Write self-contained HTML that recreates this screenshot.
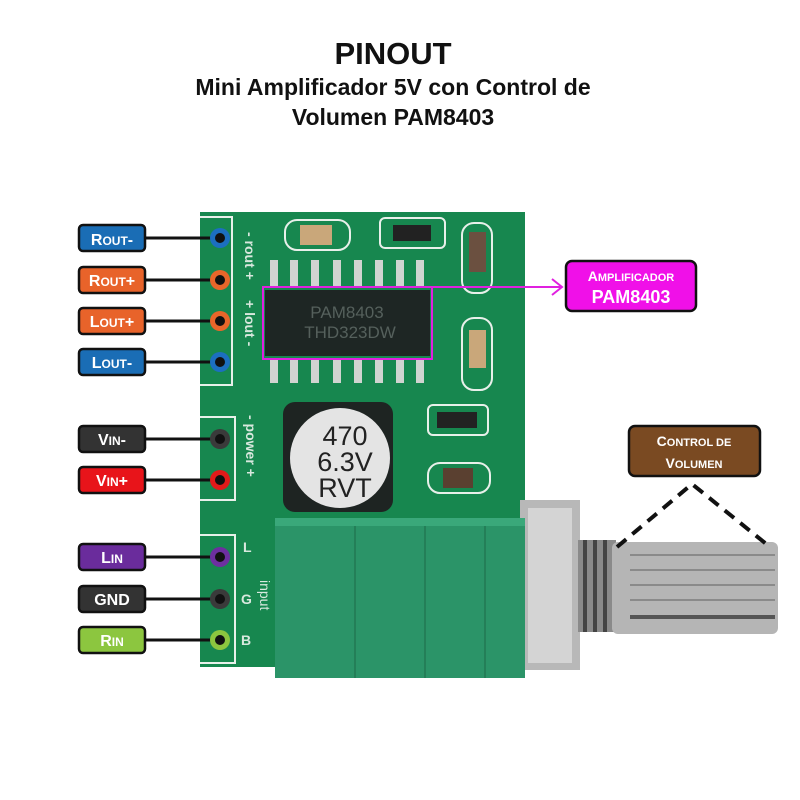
<!DOCTYPE html>
<html><head><meta charset="utf-8"><style>
html,body{margin:0;padding:0;background:#fff;}
svg{display:block;}
.t{font-family:"Liberation Sans",sans-serif;font-weight:bold;}
</style></head><body>
<svg width="800" height="800" viewBox="0 0 800 800" xmlns="http://www.w3.org/2000/svg">
<rect width="800" height="800" fill="#fff"/>
<text x="393" y="64" text-anchor="middle" class="t" font-size="31" fill="#111">PINOUT</text>
<text x="393" y="95" text-anchor="middle" class="t" font-size="23" fill="#111">Mini Amplificador 5V con Control de</text>
<text x="393" y="125" text-anchor="middle" class="t" font-size="23" fill="#111">Volumen PAM8403</text>

<rect x="200" y="212" width="325" height="455" fill="#17874f"/>
<g fill="none" stroke="#e8f0ea" stroke-width="2">
<polyline points="200,217 232,217 232,385 200,385"/>
<polyline points="200,417 235,417 235,500 200,500"/>
<polyline points="200,535 235,535 235,663 200,663"/>
</g>
<g fill="#d8e8de" font-family="Liberation Sans,sans-serif" font-weight="bold" font-size="14">
<text x="245" y="232" transform="rotate(90 245 232)">- rout +</text>
<text x="245" y="300" transform="rotate(90 245 300)">+ lout -</text>
<text x="246" y="415" transform="rotate(90 246 415)">- power +</text>
<text x="243" y="552">L</text><text x="241" y="604">G</text><text x="241" y="645">B</text>
</g>
<g fill="#c8ccc8">
<rect x="285" y="220" width="65" height="30" rx="12" fill="none" stroke="#e8f0ea" stroke-width="2"/>
<rect x="300" y="225" width="32" height="20" fill="#c9a77a"/>
<rect x="380" y="218" width="65" height="30" rx="5" fill="none" stroke="#e8f0ea" stroke-width="2"/>
<rect x="393" y="225" width="38" height="16" fill="#222"/>
<rect x="462" y="223" width="30" height="70" rx="12" fill="none" stroke="#e8f0ea" stroke-width="2"/>
<rect x="469" y="232" width="17" height="40" fill="#6b5040"/>
<rect x="462" y="318" width="30" height="72" rx="12" fill="none" stroke="#e8f0ea" stroke-width="2"/>
<rect x="469" y="330" width="17" height="38" fill="#c9a77a"/>
<rect x="428" y="405" width="60" height="30" rx="5" fill="none" stroke="#e8f0ea" stroke-width="2"/>
<rect x="437" y="412" width="40" height="16" fill="#222"/>
<rect x="428" y="463" width="62" height="30" rx="12" fill="none" stroke="#e8f0ea" stroke-width="2"/>
<rect x="443" y="468" width="30" height="20" fill="#5a4030"/>
</g>
<g fill="#d0d4d0">
<rect x="270" y="260" width="8" height="28"/><rect x="290" y="260" width="8" height="28"/><rect x="311" y="260" width="8" height="28"/><rect x="333" y="260" width="8" height="28"/><rect x="354" y="260" width="8" height="28"/><rect x="375" y="260" width="8" height="28"/><rect x="396" y="260" width="8" height="28"/><rect x="416" y="260" width="8" height="28"/>
<rect x="270" y="358" width="8" height="25"/><rect x="290" y="358" width="8" height="25"/><rect x="311" y="358" width="8" height="25"/><rect x="333" y="358" width="8" height="25"/><rect x="354" y="358" width="8" height="25"/><rect x="375" y="358" width="8" height="25"/><rect x="396" y="358" width="8" height="25"/><rect x="416" y="358" width="8" height="25"/>
</g>
<rect x="265" y="290" width="165" height="66" fill="#1e2624"/>
<text x="347" y="318" text-anchor="middle" font-family="Liberation Sans,sans-serif" font-size="17" fill="#55605c">PAM8403</text>
<text x="350" y="338" text-anchor="middle" font-family="Liberation Sans,sans-serif" font-size="17" fill="#55605c">THD323DW</text>
<rect x="263" y="287" width="169" height="72" fill="none" stroke="#e020e0" stroke-width="2"/>
<line x1="432" y1="287" x2="562" y2="287" stroke="#e020e0" stroke-width="2"/>
<polyline points="552,279 562,287 552,295" fill="none" stroke="#e020e0" stroke-width="2"/>
<rect x="283" y="402" width="110" height="110" rx="12" fill="#1e2422"/>
<circle cx="340" cy="458" r="50" fill="#e4e4e4"/>
<g font-family="Liberation Sans,sans-serif" font-size="27" fill="#222" text-anchor="middle">
<text x="345" y="445">470</text><text x="345" y="471">6.3V</text><text x="345" y="497">RVT</text></g>
<rect x="520" y="500" width="60" height="170" fill="#b8b8b8"/>
<rect x="528" y="508" width="44" height="155" fill="#d4d4d4"/>
<rect x="578" y="540" width="38" height="92" fill="#8a8a8a"/>
<g stroke="#444" stroke-width="4"><line x1="585" y1="540" x2="585" y2="632"/><line x1="595" y1="540" x2="595" y2="632"/><line x1="605" y1="540" x2="605" y2="632"/></g>
<rect x="612" y="542" width="166" height="92" rx="6" fill="#b5b5b5"/>
<g stroke="#8a8a8a" stroke-width="2"><line x1="630" y1="555" x2="775" y2="555"/><line x1="630" y1="570" x2="775" y2="570"/><line x1="630" y1="585" x2="775" y2="585"/><line x1="630" y1="600" x2="775" y2="600"/></g>
<line x1="630" y1="617" x2="775" y2="617" stroke="#555" stroke-width="4"/>
<rect x="275" y="518" width="250" height="160" fill="#2b9468"/>
<g stroke="#247f58" stroke-width="2"><line x1="355" y1="520" x2="355" y2="678"/><line x1="425" y1="520" x2="425" y2="678"/><line x1="485" y1="520" x2="485" y2="678"/></g>
<rect x="275" y="518" width="250" height="8" fill="#3aa87a"/>
<text x="260" y="580" transform="rotate(90 260 580)" font-family="Liberation Sans,sans-serif" font-size="14" fill="#d8e8de">input</text>
<polyline points="617,547 692,484 770,547" fill="none" stroke="#111" stroke-width="4" stroke-dasharray="12,8"/>
<g stroke="#111" stroke-width="3">
<line x1="145" y1="238" x2="220" y2="238"/><line x1="145" y1="280" x2="220" y2="280"/><line x1="145" y1="321" x2="220" y2="321"/><line x1="145" y1="362" x2="220" y2="362"/>
<line x1="145" y1="439" x2="220" y2="439"/><line x1="145" y1="480" x2="220" y2="480"/>
<line x1="145" y1="557" x2="220" y2="557"/><line x1="145" y1="599" x2="220" y2="599"/><line x1="145" y1="640" x2="220" y2="640"/>
</g>
<g>
<circle cx="220" cy="238" r="10" fill="#1c6fc0"/><circle cx="220" cy="280" r="10" fill="#e8662a"/><circle cx="220" cy="321" r="10" fill="#e8662a"/><circle cx="220" cy="362" r="10" fill="#1c6fc0"/>
<circle cx="220" cy="439" r="10" fill="#3a3a3a"/><circle cx="220" cy="480" r="10" fill="#e21a1a"/>
<circle cx="220" cy="557" r="10" fill="#6d2fa0"/><circle cx="220" cy="599" r="10" fill="#3a3a3a"/><circle cx="220" cy="640" r="10" fill="#8cc63f"/>
</g>
<g fill="#111"><circle cx="220" cy="238" r="5"/><circle cx="220" cy="280" r="5"/><circle cx="220" cy="321" r="5"/><circle cx="220" cy="362" r="5"/><circle cx="220" cy="439" r="5"/><circle cx="220" cy="480" r="5"/><circle cx="220" cy="557" r="5"/><circle cx="220" cy="599" r="5"/><circle cx="220" cy="640" r="5"/></g>
<g stroke="#111" stroke-width="2.5">
<rect x="79" y="225" width="66" height="26" rx="4" fill="#1a6db5"/>
<rect x="79" y="267" width="66" height="26" rx="4" fill="#e8632a"/>
<rect x="79" y="308" width="66" height="26" rx="4" fill="#e8632a"/>
<rect x="79" y="349" width="66" height="26" rx="4" fill="#1a6db5"/>
<rect x="79" y="426" width="66" height="26" rx="4" fill="#333"/>
<rect x="79" y="467" width="66" height="26" rx="4" fill="#e8141a"/>
<rect x="79" y="544" width="66" height="26" rx="4" fill="#6a2c9c"/>
<rect x="79" y="586" width="66" height="26" rx="4" fill="#333"/>
<rect x="79" y="627" width="66" height="26" rx="4" fill="#8cc63f"/>
<rect x="566" y="261" width="130" height="50" rx="6" fill="#f010e8"/>
<rect x="629" y="426" width="131" height="50" rx="6" fill="#7a4a22"/>
</g>
<g class="t" fill="#fff" text-anchor="middle" font-size="16">
<text x="112" y="245">R<tspan font-size="12">OUT</tspan>-</text>
<text x="112" y="286">R<tspan font-size="12">OUT</tspan>+</text>
<text x="112" y="327">L<tspan font-size="12">OUT</tspan>+</text>
<text x="112" y="368">L<tspan font-size="12">OUT</tspan>-</text>
<text x="112" y="445">V<tspan font-size="12">IN</tspan>-</text>
<text x="112" y="486">V<tspan font-size="12">IN</tspan>+</text>
<text x="112" y="563">L<tspan font-size="12">IN</tspan></text>
<text x="112" y="605">GND</text>
<text x="112" y="646">R<tspan font-size="12">IN</tspan></text>
<text x="631" y="281" font-size="14">A<tspan font-size="11">MPLIFICADOR</tspan></text>
<text x="631" y="303" font-size="18">PAM8403</text>
<text x="694" y="446" font-size="14">C<tspan font-size="11">ONTROL DE</tspan></text>
<text x="694" y="468" font-size="14">V<tspan font-size="11">OLUMEN</tspan></text>
</g>
</svg>
</body></html>
